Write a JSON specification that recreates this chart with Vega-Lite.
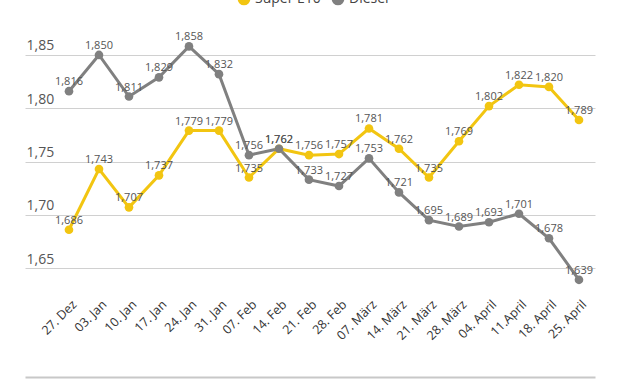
{
  "$schema": "https://vega.github.io/schema/vega-lite/v6.json",
  "width": 570,
  "height": 357,
  "autosize": {"type": "none"},
  "padding": {"left": 25, "top": 20, "right": 35, "bottom": 4},
  "background": "white",
  "config": {
    "locale": {"number": {"decimal": ",", "thousands": ".", "grouping": [3], "currency": ["", " €"]}},
    "view": {"stroke": null},
    "font": "Open Sans"
  },
  "data": {
    "values": [
      {"date": "27. Dez", "series": "Super E10", "price": 1.686},
      {"date": "03. Jan", "series": "Super E10", "price": 1.743},
      {"date": "10. Jan", "series": "Super E10", "price": 1.707},
      {"date": "17. Jan", "series": "Super E10", "price": 1.737},
      {"date": "24. Jan", "series": "Super E10", "price": 1.779},
      {"date": "31. Jan", "series": "Super E10", "price": 1.779},
      {"date": "07. Feb", "series": "Super E10", "price": 1.735},
      {"date": "14. Feb", "series": "Super E10", "price": 1.762},
      {"date": "21. Feb", "series": "Super E10", "price": 1.756},
      {"date": "28. Feb", "series": "Super E10", "price": 1.757},
      {"date": "07. März", "series": "Super E10", "price": 1.781},
      {"date": "14. März", "series": "Super E10", "price": 1.762},
      {"date": "21. März", "series": "Super E10", "price": 1.735},
      {"date": "28. März", "series": "Super E10", "price": 1.769},
      {"date": "04. April", "series": "Super E10", "price": 1.802},
      {"date": "11.April", "series": "Super E10", "price": 1.822},
      {"date": "18. April", "series": "Super E10", "price": 1.820},
      {"date": "25. April", "series": "Super E10", "price": 1.789},
      {"date": "27. Dez", "series": "Diesel", "price": 1.816},
      {"date": "03. Jan", "series": "Diesel", "price": 1.850},
      {"date": "10. Jan", "series": "Diesel", "price": 1.811},
      {"date": "17. Jan", "series": "Diesel", "price": 1.829},
      {"date": "24. Jan", "series": "Diesel", "price": 1.858},
      {"date": "31. Jan", "series": "Diesel", "price": 1.832},
      {"date": "07. Feb", "series": "Diesel", "price": 1.756},
      {"date": "14. Feb", "series": "Diesel", "price": 1.762},
      {"date": "21. Feb", "series": "Diesel", "price": 1.733},
      {"date": "28. Feb", "series": "Diesel", "price": 1.727},
      {"date": "07. März", "series": "Diesel", "price": 1.753},
      {"date": "14. März", "series": "Diesel", "price": 1.721},
      {"date": "21. März", "series": "Diesel", "price": 1.695},
      {"date": "28. März", "series": "Diesel", "price": 1.689},
      {"date": "04. April", "series": "Diesel", "price": 1.693},
      {"date": "11.April", "series": "Diesel", "price": 1.701},
      {"date": "18. April", "series": "Diesel", "price": 1.678},
      {"date": "25. April", "series": "Diesel", "price": 1.639}
    ]
  },
  "encoding": {
    "x": {
      "field": "date",
      "type": "ordinal",
      "sort": null,
      "scale": {"type": "point", "padding": 1, "align": 0.733},
      "axis": {
        "title": null,
        "orient": "bottom",
        "labelAngle": -45,
        "labelAlign": "right",
        "labelBaseline": "middle",
        "labelPadding": -75,
        "labelOffset": 5,
        "labelFontSize": 12.5,
        "labelColor": "#333333",
        "ticks": false,
        "tickSize": 0,
        "domain": true,
        "domainColor": "#c8c8c8",
        "domainWidth": 2,
        "grid": false
      }
    },
    "y": {
      "field": "price",
      "type": "quantitative",
      "scale": {"domain": [1.5478, 1.8828], "nice": false, "zero": false},
      "axis": {
        "title": null,
        "values": [1.65, 1.70, 1.75, 1.80, 1.85],
        "format": ".2f",
        "orient": "left",
        "domain": false,
        "ticks": false,
        "tickSize": 0,
        "grid": true,
        "gridColor": "#d0d0d0",
        "gridWidth": 1,
        "labelAlign": "left",
        "labelBaseline": "bottom",
        "labelPadding": -1,
        "labelOffset": -2,
        "labelFontSize": 14,
        "labelColor": "#555555"
      }
    },
    "color": {
      "field": "series",
      "type": "nominal",
      "scale": {"domain": ["Super E10", "Diesel"], "range": ["#f2c511", "#808080"]},
      "legend": {
        "title": null,
        "orient": "none",
        "direction": "horizontal",
        "legendX": 212,
        "legendY": -28,
        "symbolType": "circle",
        "symbolSize": 160,
        "symbolStrokeWidth": 0,
        "labelFontSize": 14,
        "labelColor": "#444444",
        "columnPadding": 10
      }
    }
  },
  "layer": [
    {"mark": {"type": "line", "strokeWidth": 3}},
    {"mark": {"type": "point", "filled": true, "size": 75, "opacity": 1}},
    {
      "mark": {"type": "text", "dy": -9, "fontSize": 11, "color": "#555555"},
      "encoding": {
        "text": {"field": "price", "type": "quantitative", "format": ".3f"},
        "color": {"value": "#555555"}
      }
    }
  ]
}
